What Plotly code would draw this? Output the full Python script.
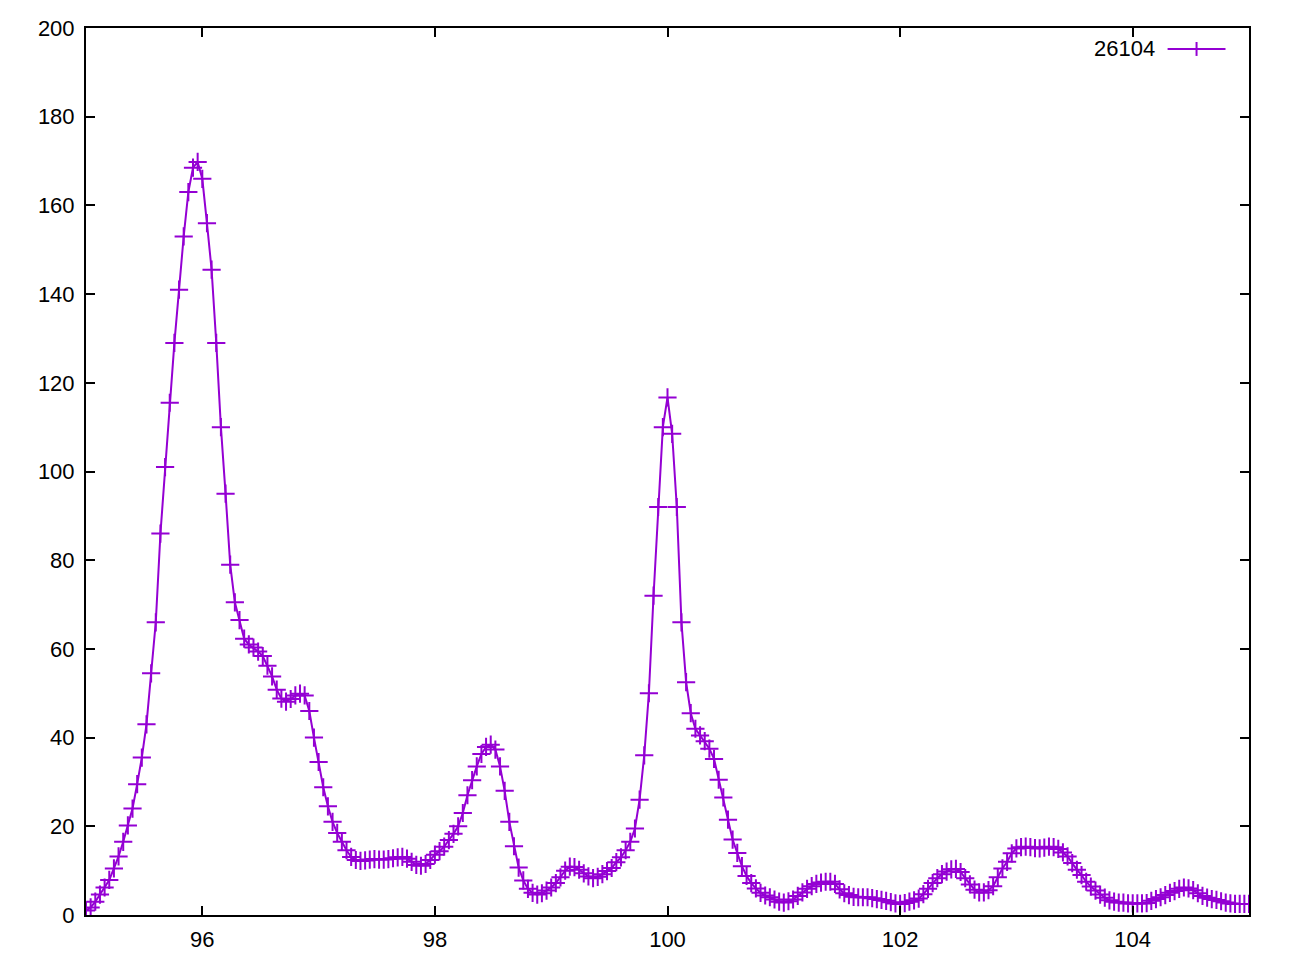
import plotly.graph_objects as go

# series "26104" : x positions and counts
x_values = [
    95.00, 95.04, 95.08, 95.12, 95.16, 95.20, 95.24, 95.28, 95.32, 95.36,
    95.40, 95.44, 95.48, 95.52, 95.56, 95.60, 95.64, 95.68, 95.72, 95.76,
    95.80, 95.84, 95.88, 95.92, 95.96, 96.00, 96.04, 96.08, 96.12, 96.16,
    96.20, 96.24, 96.28, 96.32, 96.36, 96.40, 96.44, 96.48, 96.52, 96.56,
    96.60, 96.64, 96.68, 96.72, 96.76, 96.80, 96.84, 96.88, 96.92, 96.96,
    97.00, 97.04, 97.08, 97.12, 97.16, 97.20, 97.24, 97.28, 97.32, 97.36,
    97.40, 97.44, 97.48, 97.52, 97.56, 97.60, 97.64, 97.68, 97.72, 97.76,
    97.80, 97.84, 97.88, 97.92, 97.96, 98.00, 98.04, 98.08, 98.12, 98.16,
    98.20, 98.24, 98.28, 98.32, 98.36, 98.40, 98.44, 98.48, 98.52, 98.56,
    98.60, 98.64, 98.68, 98.72, 98.76, 98.80, 98.84, 98.88, 98.92, 98.96,
    99.00, 99.04, 99.08, 99.12, 99.16, 99.20, 99.24, 99.28, 99.32, 99.36,
    99.40, 99.44, 99.48, 99.52, 99.56, 99.60, 99.64, 99.68, 99.72, 99.76,
    99.80, 99.84, 99.88, 99.92, 99.96, 100.00, 100.04, 100.08, 100.12, 100.16,
    100.20, 100.24, 100.28, 100.32, 100.36, 100.40, 100.44, 100.48, 100.52, 100.56,
    100.60, 100.64, 100.68, 100.72, 100.76, 100.80, 100.84, 100.88, 100.92, 100.96,
    101.00, 101.04, 101.08, 101.12, 101.16, 101.20, 101.24, 101.28, 101.32, 101.36,
    101.40, 101.44, 101.48, 101.52, 101.56, 101.60, 101.64, 101.68, 101.72, 101.76,
    101.80, 101.84, 101.88, 101.92, 101.96, 102.00, 102.04, 102.08, 102.12, 102.16,
    102.20, 102.24, 102.28, 102.32, 102.36, 102.40, 102.44, 102.48, 102.52, 102.56,
    102.60, 102.64, 102.68, 102.72, 102.76, 102.80, 102.84, 102.88, 102.92, 102.96,
    103.00, 103.04, 103.08, 103.12, 103.16, 103.20, 103.24, 103.28, 103.32, 103.36,
    103.40, 103.44, 103.48, 103.52, 103.56, 103.60, 103.64, 103.68, 103.72, 103.76,
    103.80, 103.84, 103.88, 103.92, 103.96, 104.00, 104.04, 104.08, 104.12, 104.16,
    104.20, 104.24, 104.28, 104.32, 104.36, 104.40, 104.44, 104.48, 104.52, 104.56,
    104.60, 104.64, 104.68, 104.72, 104.76, 104.80, 104.84, 104.88, 104.92, 104.96,
    105.00,
]

y_values = [
    1.0, 1.7, 3.0, 4.6, 6.2, 7.9, 10.5, 13.2, 16.5, 20.2,
    24.0, 29.5, 35.5, 43.0, 54.5, 66.0, 86.0, 101.0, 115.5, 129.0,
    141.0, 153.0, 163.0, 168.5, 169.8, 166.0, 156.0, 145.5, 129.0, 110.0,
    95.0, 79.0, 70.5, 66.5, 62.3, 61.0, 60.3, 59.4, 58.4, 56.2,
    53.8, 50.8, 48.8, 48.1, 48.7, 49.5, 49.9, 49.5, 46.0, 40.0,
    34.5, 28.8, 24.5, 21.0, 18.5, 16.5, 14.6, 13.1, 12.4, 12.2,
    12.3, 12.5, 12.6, 12.5, 12.5, 12.6, 12.8, 13.0, 13.1, 12.7,
    12.0, 11.3, 11.1, 11.5, 12.4, 13.6, 14.4, 15.4, 16.9, 18.3,
    20.0, 23.0, 27.0, 30.4, 33.5, 36.3, 37.9, 38.4, 37.3, 33.5,
    28.0, 21.0, 15.5, 10.7, 7.8, 5.9, 5.0, 4.6, 4.9, 5.5,
    6.2, 7.2, 8.5, 10.0, 10.9, 10.8, 10.2, 9.4, 8.7, 8.3,
    8.6, 9.2, 9.9, 10.6, 11.9, 13.0, 14.6, 16.5, 19.5, 26.0,
    36.0, 50.0, 72.0, 92.0, 110.0, 116.7, 108.5, 92.0, 66.0, 52.5,
    45.5, 42.0, 40.5, 39.2, 37.5, 35.2, 30.5, 26.5, 21.5, 17.0,
    14.0, 11.0, 8.8, 7.2, 6.0, 5.0, 4.4, 4.0, 3.5, 3.0,
    2.8, 3.1, 3.5, 4.3, 5.1, 5.9, 6.5, 7.0, 7.3, 7.5,
    7.5, 7.0, 5.8, 4.9, 4.5, 4.1, 4.0, 4.0, 4.0, 3.8,
    3.6, 3.4, 3.2, 2.9, 2.6, 2.5, 2.7, 3.0, 3.3, 3.7,
    4.7, 5.9, 7.2, 8.3, 9.2, 9.8, 10.3, 10.4, 9.7, 8.3,
    6.9, 5.7, 5.1, 5.1, 5.6, 6.5, 8.5, 10.5, 12.0, 13.9,
    15.0, 15.3, 15.4, 15.3, 15.1, 15.0, 15.2, 15.4, 15.3, 14.9,
    14.1, 13.2, 11.7, 10.2, 9.0, 7.5, 6.4, 5.5, 4.6, 3.9,
    3.3, 3.0, 2.8, 2.8, 2.6, 2.6, 2.6, 2.6, 2.7, 3.2,
    3.6, 4.0, 4.5, 5.0, 5.4, 5.9, 6.2, 6.0, 5.6, 4.9,
    4.3, 3.9, 3.6, 3.4, 3.1, 2.8, 2.6, 2.5, 2.5, 2.5,
    2.5,
]

series_name = "26104"
x_ticks = [96, 98, 100, 102, 104]
y_ticks = [0, 20, 40, 60, 80, 100, 120, 140, 160, 180, 200]

purple = "#9400D3"
label_font = dict(family="Liberation Sans, Arial, sans-serif", size=22, color="black")

fig = go.Figure()
fig.add_trace(go.Scatter(
    x=x_values,
    y=y_values,
    mode="lines+markers",
    name=series_name,
    line=dict(color=purple, width=2),
    marker=dict(symbol="cross-thin", size=13, color=purple,
                line=dict(color=purple, width=2)),
    showlegend=False,
))

axis_style = dict(
    showgrid=False,
    zeroline=False,
    showline=True,
    linecolor="black",
    linewidth=2,
    mirror="allticks",
    ticks="inside",
    ticklen=9,
    tickwidth=1.5,
    tickcolor="black",
    tickfont=label_font,
    automargin=False,
)

# page body adds a few px, so margins are shifted to land the box where the reference has it
fig.update_layout(
    width=1294,
    height=960,
    margin=dict(l=78, r=53, t=20, b=53),
    plot_bgcolor="white",
    paper_bgcolor="white",
    xaxis=dict(range=[95, 105], tickvals=x_ticks, ticklabelstandoff=4, **axis_style),
    yaxis=dict(range=[0, 200], tickvals=y_ticks, ticklabelstandoff=5, **axis_style),
)

# gnuplot style key: label first, then line sample with a plus
fig.add_annotation(
    x=0.9206, y=0.9764, xref="paper", yref="paper",
    text=series_name, showarrow=False, xanchor="right", yanchor="middle",
    font=label_font,
)
fig.add_shape(type="line", xref="paper", yref="paper",
              x0=0.9300, x1=0.9798, y0=0.9764, y1=0.9764,
              line=dict(color=purple, width=2))
fig.add_shape(type="line", xref="paper", yref="paper",
              x0=0.9549, x1=0.9549, y0=0.9685, y1=0.9842,
              line=dict(color=purple, width=2))

fig.write_html("out.html")
